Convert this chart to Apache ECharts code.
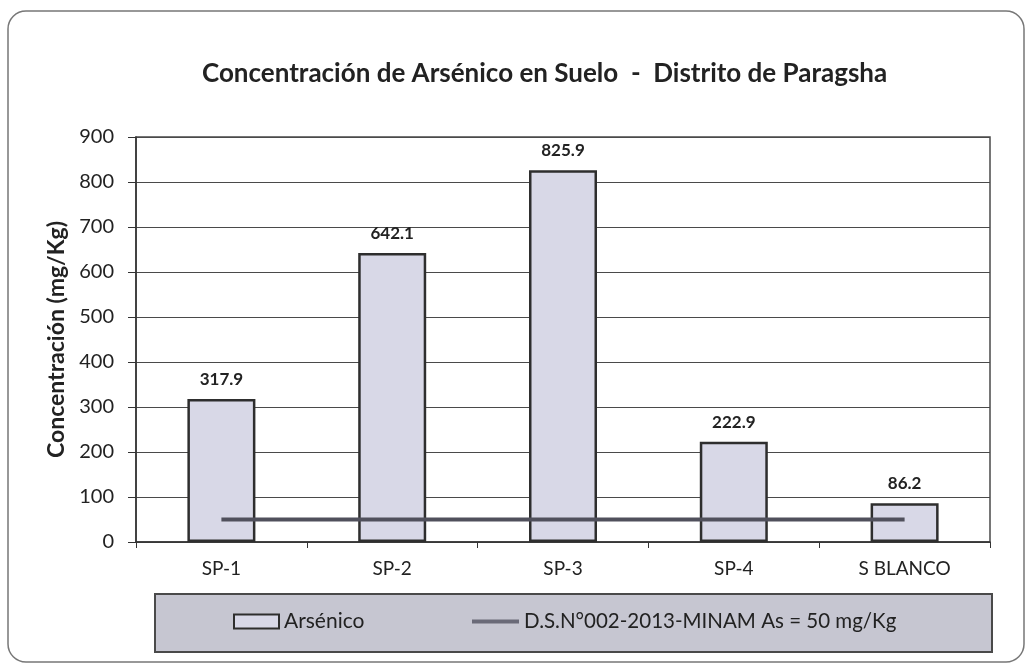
<!DOCTYPE html>
<html>
<head>
<meta charset="utf-8">
<script src="https://cdn.jsdelivr.net/npm/echarts@6/dist/echarts.min.js"></script>
<style>
  html, body { margin: 0; padding: 0; background: #fff; }
  #chart { width: 1030px; height: 669px; }
</style>
</head>
<body>
<div id="chart"></div>
<script>
const categories = ['SP-1', 'SP-2', 'SP-3', 'SP-4', 'S BLANCO'];
const arsenico = [317.9, 642.1, 825.9, 222.9, 86.2];
const limite = [50, 50, 50, 50, 50];
const yTicks = [0, 100, 200, 300, 400, 500, 600, 700, 800, 900];

const barName = 'Arsénico';
const lineName = 'D.S.N°002-2013-MINAM As = 50 mg/Kg';
const font = 'Lato, "Open Sans", sans-serif';
const chart = echarts.init(document.getElementById('chart'));

const legendText = { fontFamily: font, fontSize: 21, color: '#222' };

const option = {
  animation: false,
  backgroundColor: '#fff',
  title: {
    text: 'Concentración de Arsénico en Suelo  -  Distrito de Paragsha',
    left: 197,
    top: 56,
    textStyle: { fontFamily: font, fontSize: 26, fontWeight: 'bold', color: '#222' },
  },
  grid: {
    left: 136, right: 40, top: 137, bottom: 127,
    show: true, borderColor: '#4a4a4a', borderWidth: 1.5,
  },
  graphic: [
    {
      type: 'rect', z: -10, silent: true,
      shape: { x: 8, y: 11, width: 1016, height: 651, r: 18 },
      style: { fill: 'none', stroke: '#777', lineWidth: 1.5 },
    },
    {
      type: 'rect', z: 0, silent: true,
      shape: { x: 155, y: 594, width: 837, height: 58 },
      style: { fill: '#c6c6d1', stroke: '#4a4a4a', lineWidth: 2 },
    },
  ],
  legend: [
    {
      z: 10,
      left: 228,
      top: 606,
      itemGap: 0,
      itemWidth: 45,
      itemHeight: 14,
      icon: 'rect',
      textStyle: legendText,
      data: [barName],
    },
    {
      z: 10,
      left: 467,
      top: 606,
      itemGap: 0,
      itemWidth: 47,
      itemHeight: 4,
      icon: 'rect',
      textStyle: { fontFamily: font, fontSize: 20.5, color: '#222' },
      data: [{ name: lineName, itemStyle: { color: '#6a6a78' } }],
    },
  ],
  xAxis: {
    type: 'category',
    data: categories,
    axisLine: { lineStyle: { color: '#333', width: 1.5 } },
    axisTick: { show: true, length: 6, lineStyle: { color: '#333' } },
    axisLabel: { fontFamily: font, fontSize: 19, color: '#222', margin: 17 },
  },
  yAxis: {
    type: 'value',
    min: yTicks[0],
    max: yTicks[yTicks.length - 1],
    interval: 100,
    name: 'Concentración (mg/Kg)',
    nameLocation: 'middle',
    nameGap: 62,
    nameTextStyle: { fontFamily: font, fontSize: 23, fontWeight: 'bold', color: '#222' },
    axisLine: { show: true, lineStyle: { color: '#333', width: 1.5 } },
    axisTick: { show: true, length: 8, lineStyle: { color: '#333' } },
    axisLabel: { fontFamily: font, fontSize: 20, color: '#222', margin: 22 },
    splitLine: { lineStyle: { color: '#4a4a4a', width: 1.2 } },
  },
  series: [
    {
      name: barName,
      type: 'bar',
      data: arsenico,
      barWidth: 68,
      itemStyle: { color: '#d8d8e7', borderColor: '#2e2e2e', borderWidth: 2.5 },
      label: {
        show: true,
        position: 'top',
        distance: 11,
        fontFamily: font,
        fontSize: 17,
        fontWeight: 'bold',
        color: '#222',
        formatter: (p) => p.value.toFixed(1),
      },
      z: 2,
    },
    {
      name: lineName,
      type: 'line',
      data: limite,
      symbol: 'none',
      lineStyle: { color: '#50505c', width: 4 },
      itemStyle: { color: '#50505c' },
      z: 3,
    },
  ],
};

chart.setOption(option);
</script>
</body>
</html>
